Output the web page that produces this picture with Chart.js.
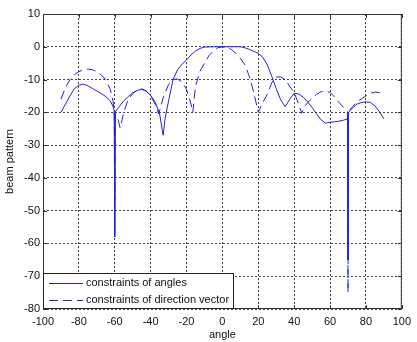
<!DOCTYPE html>
<html>
<head>
<meta charset="utf-8">
<script src="https://cdn.jsdelivr.net/npm/chart.js@4"></script>
<style>
  body { margin: 0; background: #fff; }
  #wrap { width: 417px; height: 342px; position: relative; }
</style>
</head>
<body>
<div id="wrap"><canvas id="beamChart"></canvas></div>
<script>
// tick labels
const xTicks = [-100, -80, -60, -40, -20, 0, 20, 40, 60, 80, 100];
const yTicks = [10, 0, -10, -20, -30, -40, -50, -60, -70, -80];

// constraints of angles (solid)
const anglesA = [-90, -87.5, -85, -82.5, -80, -77.5, -75, -72.5, -70, -67.5, -65, -62.5, -61, -60.3, -60, -59.7,
  -57.5, -55, -52.5, -50, -47.5, -45, -42.5, -40, -37.5, -35, -33.5, -33, -32, -30, -27.5, -25, -22.5, -20,
  -17.5, -15, -12.5, -10, -5, 0, 5, 10, 12.5, 15, 17.5, 20, 22.5, 25, 27.5, 30, 32.5, 35, 37.5, 40, 42.5,
  45, 47.5, 50, 52.5, 55, 57.5, 60, 62.5, 65, 67.5, 69.7, 70, 70.3, 72.5, 75, 77.5, 80, 82.5, 85, 87.5, 90];
const beamA = [-20, -17.5, -15, -12.8, -11.7, -11.4, -11.9, -12.7, -13.5, -14.3, -15.2, -16.5, -18.2, -19.5, -58, -19.8,
  -18.3, -16.5, -15.2, -14.1, -13.3, -13, -13.5, -14.8, -16.8, -20.5, -25.5, -27, -22, -16.5, -10, -7, -5.3, -4,
  -2.5, -1.3, -0.5, -0.1, 0, 0, 0, 0, -0.3, -0.8, -1.4, -2, -3.2, -5.5, -9, -12.8, -16.2, -18.3, -16, -14.2, -14.4,
  -15.3, -16.8, -18.5, -20.5, -22.3, -23.3, -23, -22.9, -22.7, -22.4, -22, -65, -20, -18.7, -17.5, -17, -16.8, -17, -18, -19.8, -22];

// constraints of direction vector (dashed)
const anglesB = [-90, -87.5, -85, -82.5, -80, -77.5, -75, -72.5, -70, -67.5, -65, -62.5, -61, -60.3, -60, -59.7,
  -58, -57, -56, -55, -52.5, -50, -47.5, -45, -42.5, -40, -37.5, -35.5, -33, -30, -27.5, -25, -22.5, -20,
  -17.5, -16.5, -15, -12.5, -10, -7.5, -5, -2.5, 0, 2.5, 5, 7.5, 10, 12.5, 15, 17.5, 20, 22.5, 25, 27.5, 30,
  32.5, 35, 37.5, 40, 42.5, 44.2, 46, 47.5, 50, 52.5, 55, 57.5, 60, 62.5, 65, 67.5, 69.7, 70, 70.3, 72.5, 75,
  77.5, 80, 82.5, 85, 87.5, 90];
const beamB = [-16, -12.5, -10, -8.5, -7.6, -7, -6.8, -7, -7.6, -8.6, -10, -13, -16.5, -19.5, -47, -20.5,
  -22.5, -24.8, -22.5, -20, -16, -14.3, -13.2, -12.8, -13.5, -15, -17.5, -20.5, -15.5, -11.5, -10, -9.8, -10.8, -13,
  -17.5, -20, -12, -7.5, -5, -2.7, -1.3, -0.3, 0, -0.2, -0.8, -2, -3.5, -5.5, -9, -14, -20, -17, -14.5, -11, -9.2,
  -9.2, -10, -12, -14, -17.5, -20.3, -18, -17, -15.8, -14.5, -13.7, -13.6, -13.9, -15.3, -17, -18.5, -19.8, -75, -19.8, -18.3, -16.8,
  -15.9, -15, -14.2, -13.8, -14, -14.7];

const seriesNames = ['constraints of angles', 'constraints of direction vector'];
const lineColor = '#2222dd';
const fontFam = '"Liberation Sans", Arial, sans-serif';

function toPoints(xs, ys) {
  return xs.map(function(x, i) { return { x: x, y: ys[i] }; });
}

// box, inward ticks and legend like the original figure
const framePlugin = {
  id: 'frame',
  afterDraw: function(chart) {
    const c = chart.ctx;
    const a = chart.chartArea;
    const sx = chart.scales.x, sy = chart.scales.y;
    c.save();
    c.strokeStyle = '#333';
    c.lineWidth = 1;
    c.strokeRect(a.left + 0.5, a.top + 0.5, a.right - a.left - 1, a.bottom - a.top - 1);
    c.beginPath();
    xTicks.forEach(function(t) {
      const px = Math.round(sx.getPixelForValue(t)) + 0.5;
      c.moveTo(px, a.bottom); c.lineTo(px, a.bottom - 4);
      c.moveTo(px, a.top); c.lineTo(px, a.top + 4);
    });
    yTicks.forEach(function(t) {
      const py = Math.round(sy.getPixelForValue(t)) + 0.5;
      c.moveTo(a.left, py); c.lineTo(a.left + 4, py);
      c.moveTo(a.right, py); c.lineTo(a.right - 4, py);
    });
    c.stroke();

    // legend
    const lx = a.left, ly = 273, lw = 190, lh = a.bottom - 273;
    c.fillStyle = '#fff';
    c.fillRect(lx, ly, lw, lh);
    c.strokeStyle = '#222';
    c.strokeRect(lx + 0.5, ly + 0.5, lw, lh - 1);
    c.font = '11px ' + fontFam;
    c.textBaseline = 'middle';
    c.fillStyle = '#111';
    const rows = [283, 300];
    rows.forEach(function(ry, i) {
      c.strokeStyle = lineColor;
      c.setLineDash(i === 1 ? [9, 5] : []);
      c.beginPath();
      c.moveTo(lx + 6, ry + 0.5);
      c.lineTo(lx + 40, ry + 0.5);
      c.stroke();
      c.setLineDash([]);
      c.fillText(seriesNames[i], lx + 43, ry);
    });
    c.restore();
  }
};

const ctx = document.getElementById('beamChart').getContext('2d');
const beamChart = new Chart(ctx, {
  type: 'scatter',
  data: {
    datasets: [{
      label: seriesNames[0],
      data: toPoints(anglesA, beamA),
      showLine: true,
      borderColor: lineColor,
      borderWidth: 1,
      pointRadius: 0,
      tension: 0
    }, {
      label: seriesNames[1],
      data: toPoints(anglesB, beamB),
      showLine: true,
      borderColor: lineColor,
      borderWidth: 1,
      borderDash: [9, 5],
      pointRadius: 0,
      tension: 0
    }]
  },
  options: {
    responsive: true,
    maintainAspectRatio: false,
    animation: false,
    layout: { padding: { top: 14, right: 8, left: 0, bottom: 0 } },
    plugins: {
      legend: { display: false },
      tooltip: { enabled: false }
    },
    scales: {
      x: {
        type: 'linear',
        min: -100,
        max: 100,
        afterBuildTicks: function(scale) { scale.ticks = xTicks.map(function(v) { return { value: v }; }); },
        afterFit: function(scale) { scale.height = 33; },
        grid: { color: '#444', drawTicks: false, tickLength: 0 },
        border: { display: false, dash: [2, 2] },
        ticks: { padding: 6, color: '#111', font: { size: 11, family: fontFam } },
        title: { display: true, text: 'angle', color: '#111', padding: 0, font: { size: 11, family: fontFam } }
      },
      y: {
        type: 'linear',
        min: -80,
        max: 10,
        afterBuildTicks: function(scale) { scale.ticks = yTicks.map(function(v) { return { value: v }; }); },
        afterFit: function(scale) { scale.width = 43; },
        grid: { color: '#444', drawTicks: false, tickLength: 0 },
        border: { display: false, dash: [2, 2] },
        ticks: { padding: 3, color: '#111', font: { size: 11, family: fontFam } },
        title: { display: true, text: 'beam pattern', color: '#111', padding: { top: 3 }, font: { size: 11, family: fontFam } }
      }
    }
  },
  plugins: [framePlugin]
});
</script>
</body>
</html>
